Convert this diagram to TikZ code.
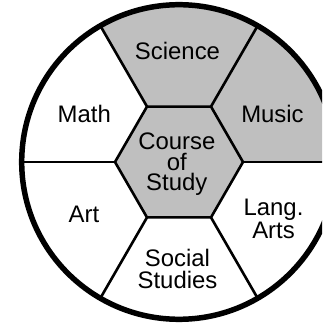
\documentclass[tikz,border=0pt]{standalone}
\usepackage{tkz-euclide}
\usepackage{fontspec}
\setmainfont{Liberation Sans}
\definecolor{shade}{RGB}{191,191,191}
\tikzset{>=stealth,
  subject/.style={font=\fontsize{34}{31.3}\selectfont, align=center, anchor=base, inner sep=0pt},
  spoke/.style={draw=black, line width=3.7pt},
  rim/.style={draw=black, line width=7.8pt}}

\begin{document}
\begin{tikzpicture}
    \useasboundingbox (-8.95,-8.1) rectangle (7.15,8.1);
    \clip (-8.95,-8.1) rectangle (7.15,8.1);
    \tkzDefPoints{0/0/O, 3.2/0/H1, 1.6/2.7713/H2, -1.6/2.7713/H3, -3.2/0/H4, -1.6/-2.7713/H5, 1.6/-2.7713/H6}
    \tkzDefPoints{7.865/0/C1, 3.9325/6.8113/C2, -3.9325/6.8113/C3, -7.865/0/C4, -3.9325/-6.8113/C5, 3.9325/-6.8113/C6}
    % shaded parts
    \tkzFillSector[fill=shade](O,C1)(C3)
    \tkzFillPolygon[fill=shade](H1,H2,H3,H4,H5,H6)
    \tkzDrawPolygon[spoke](H1,H2,H3,H4,H5,H6)
    \tkzDrawSegments[spoke](H1,C1 H2,C2 H3,C3 H4,C4 H5,C5 H6,C6)
    \tkzDrawCircle[rim](O,C1)
    % labels (base = last line)
    \node[subject] (science) at (-0.075,5.135) {Science};
    \node[subject] (music) at (4.675,1.95) {Music};
    \node[subject] (math) at (-4.735,1.965) {Math};
    \node[subject] (art) at (-4.75,-3.035) {Art};
    \node[subject] (lang) at (4.725,-3.8) {Lang.\\Arts};
    \node[subject] (social) at (-0.075,-6.315) {Social\\Studies};
    \node[subject, font=\fontsize{34}{29.4}\selectfont] (course) at (-0.11,-1.435) {Course\\of\\Study};
\end{tikzpicture}
\end{document}
